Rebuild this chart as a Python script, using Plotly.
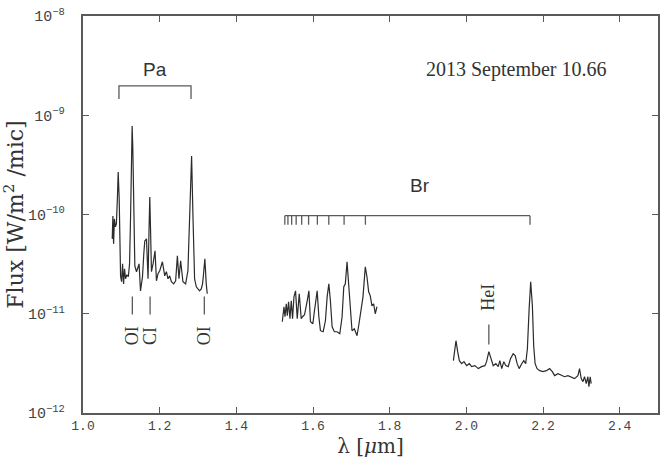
import plotly.graph_objects as go
import math

# ---------------- data (flux in units of 1e-11 W/m^2/micron) ----------------
FLUX_UNIT = 1e-11

j_wave = [1.0762, 1.0780, 1.0798, 1.0819, 1.0845, 1.0871, 1.0897, 1.0918, 1.0944, 1.0962,
          1.0980, 1.1006, 1.1032, 1.1058, 1.1084, 1.1110, 1.1144, 1.1183, 1.1214, 1.1240,
          1.1261, 1.1282, 1.1300, 1.1318, 1.1352, 1.1396, 1.1430, 1.1463, 1.1500, 1.1552,
          1.1586, 1.1612, 1.1656, 1.1697, 1.1723, 1.1742, 1.1762, 1.1786, 1.1827, 1.1879,
          1.1916, 1.1957, 1.2002, 1.2072, 1.2132, 1.2176, 1.2217, 1.2261, 1.2306, 1.2365,
          1.2417, 1.2462, 1.2503, 1.2547, 1.2607, 1.2677, 1.2737, 1.2781, 1.2807, 1.2833,
          1.2867, 1.2911, 1.2956, 1.3002, 1.3041, 1.3085, 1.3119, 1.3145, 1.3179, 1.3215,
          1.3241]
j_flux = [5.68, 9.68, 5.06, 9.03, 7.50, 8.05, 14.4, 26.8, 14.4, 4.51,
          2.41, 2.10, 3.18, 2.00, 2.84, 2.25, 2.47, 2.36, 3.18, 9.03,
          28.8, 77.9, 45.7, 11.4, 3.04, 2.65, 2.97, 3.18, 1.70, 2.36,
          4.02, 5.42, 5.68, 2.25, 7.16, 15.0, 7.16, 2.65, 3.18, 4.30,
          2.15, 2.53, 2.71, 3.34, 2.41, 2.65, 2.25, 2.41, 2.10, 2.00,
          2.15, 3.83, 2.25, 3.41, 2.10, 2.00, 2.71, 7.68, 20.3, 38.9,
          10.15, 2.25, 1.87, 1.78, 1.70, 1.78, 2.00, 2.53, 3.58, 2.00,
          1.59]

h_wave = [1.5199, 1.5243, 1.5269, 1.5303, 1.5329, 1.5363, 1.5399, 1.5433, 1.5467, 1.5503,
          1.5545, 1.5589, 1.5641, 1.5693, 1.5727, 1.5779, 1.5849, 1.5893, 1.5934, 1.5997,
          1.6038, 1.6109, 1.6153, 1.6194, 1.6265, 1.6324, 1.6369, 1.6413, 1.6454, 1.6499,
          1.6558, 1.6628, 1.6699, 1.6759, 1.6803, 1.6844, 1.6888, 1.6933, 1.6974, 1.7018,
          1.7078, 1.7148, 1.7200, 1.7252, 1.7304, 1.7364, 1.7408, 1.7452, 1.7494, 1.7538,
          1.7583, 1.7624, 1.7668]
h_flux = [0.831, 1.176, 0.933, 1.261, 0.955, 1.32, 0.891, 1.35, 0.891, 1.48,
          1.70, 0.891, 1.59, 0.891, 0.933, 0.977, 1.35, 1.70, 0.831, 0.793,
          1.072, 1.70, 0.933, 0.675, 0.659, 0.850, 1.48, 2.00, 1.35, 0.740,
          0.659, 0.659, 0.629, 0.933, 1.87, 2.00, 3.34, 2.00, 1.072, 0.675,
          0.706, 0.600, 0.793, 1.047, 1.48, 2.97, 2.36, 1.665, 1.517, 1.20,
          1.26, 1.00, 1.176]

k_wave = [1.9662, 1.9730, 1.9774, 1.9818, 1.9878, 1.9938, 2.0008, 2.0078, 2.0138, 2.0224,
          2.0312, 2.0398, 2.0484, 2.0528, 2.0588, 2.0640, 2.0702, 2.0770, 2.0832, 2.0873,
          2.0925, 2.0977, 2.1029, 2.1092, 2.1152, 2.1222, 2.1274, 2.1326, 2.1378, 2.1445,
          2.1497, 2.1549, 2.1593, 2.1638, 2.1679, 2.1723, 2.1757, 2.1794, 2.1846, 2.1913,
          2.2001, 2.2087, 2.2173, 2.2243, 2.2303, 2.2391, 2.2477, 2.2563, 2.2651, 2.2737,
          2.2823, 2.2911, 2.2953, 2.2997, 2.3041, 2.3083, 2.3127, 2.3171, 2.3197, 2.3231,
          2.3257]
k_flux = [0.337, 0.535, 0.415, 0.337, 0.314, 0.329, 0.300, 0.314, 0.293, 0.300,
          0.280, 0.293, 0.300, 0.329, 0.415, 0.352, 0.300, 0.314, 0.293, 0.337,
          0.280, 0.329, 0.300, 0.293, 0.352, 0.396, 0.378, 0.314, 0.280, 0.314,
          0.337, 0.314, 0.444, 1.12, 2.10, 1.20, 0.476, 0.314, 0.280, 0.267,
          0.261, 0.267, 0.280, 0.261, 0.238, 0.249, 0.238, 0.232, 0.238, 0.232,
          0.222, 0.238, 0.280, 0.222, 0.207, 0.232, 0.198, 0.232, 0.184, 0.232,
          0.198]

# line identifications
pa_lines = [1.0938, 1.2818]                     # Pa gamma, Pa beta
br_lines = [1.5265, 1.5346, 1.5443, 1.5561, 1.5705, 1.5885,
            1.6114, 1.6412, 1.6811, 1.7367, 2.1661]  # Br19 ... Br10, Br gamma
ion_lines = [1.1287, 1.1750, 1.3165]            # OI, CI, OI
ion_labels = ["OI", "CI", "OI"]
hei_line = 2.0587

# label heights (flux)
pa_bar_y, pa_tick_y = 1.98e-9, 1.46e-9
br_bar_y, br_tick_y = 9.73e-11, 7.89e-11
ion_top_y, ion_bot_y = 1.49e-11, 9.8e-12
ion_text_y = 5.97e-12
hei_top_y, hei_bot_y = 7.78e-12, 4.9e-12
hei_text_y = 1.47e-11

LINE = "#2b2b2b"
AX = "#5a5a5a"
fig = go.Figure()

for w, f in [(j_wave, j_flux), (h_wave, h_flux), (k_wave, k_flux)]:
    fig.add_trace(go.Scatter(x=w, y=[v * FLUX_UNIT for v in f], mode="lines",
                             line=dict(color=LINE, width=1.2), hoverinfo="skip",
                             showlegend=False))

# Pa bracket
fig.add_trace(go.Scatter(
    x=[pa_lines[0], pa_lines[0], pa_lines[1], pa_lines[1]],
    y=[pa_tick_y, pa_bar_y, pa_bar_y, pa_tick_y],
    mode="lines", line=dict(color=AX, width=1.3), showlegend=False, hoverinfo="skip"))

# Br bracket
bx, by = [br_lines[0], br_lines[-1]], [br_bar_y, br_bar_y]
for w in br_lines:
    bx += [None, w, w]
    by += [None, br_bar_y, br_tick_y]
fig.add_trace(go.Scatter(x=bx, y=by, mode="lines", line=dict(color=AX, width=1.3),
                         showlegend=False, hoverinfo="skip"))

# OI / CI / HeI marks
mx, my = [], []
for w in ion_lines:
    mx += [w, w, None]
    my += [ion_top_y, ion_bot_y, None]
mx += [hei_line, hei_line]
my += [hei_top_y, hei_bot_y]
fig.add_trace(go.Scatter(x=mx, y=my, mode="lines", line=dict(color=AX, width=1.3),
                         showlegend=False, hoverinfo="skip"))

ann = []
ann.append(dict(x=sum(pa_lines) / 2, y=math.log10(2.9e-9), text="Pa",
                font=dict(family="Liberation Sans", size=19, color="#333")))
ann.append(dict(x=1.88, y=math.log10(1.95e-10), text="Br",
                font=dict(family="Liberation Sans", size=19, color="#333")))
ann.append(dict(x=2.13, y=math.log10(2.86e-9), text="2013 September 10.66",
                font=dict(family="Liberation Serif", size=20, color="#333")))
for w, t in zip(ion_lines, ion_labels):
    ann.append(dict(x=w, y=math.log10(ion_text_y), text=t, textangle=-90,
                    font=dict(family="Liberation Serif", size=18, color="#333")))
ann.append(dict(x=hei_line - 0.003, y=math.log10(hei_text_y), text="HeI", textangle=-90,
                font=dict(family="Liberation Serif", size=18, color="#333")))
for a in ann:
    a.update(xref="x", yref="y", showarrow=False, xanchor="center", yanchor="middle")

fig.update_layout(
    width=660, height=468,
    margin=dict(l=83, r=0, t=16, b=55),
    paper_bgcolor="white", plot_bgcolor="white",
    annotations=ann,
    xaxis=dict(range=[1.0, 2.5], dtick=0.2, tick0=1.0, tickformat=".1f",
               showgrid=False, zeroline=False, showline=True, linecolor=AX, linewidth=1.5,
               mirror="allticks", ticks="inside", ticklen=6, tickcolor=AX,
               tickfont=dict(family="Liberation Mono", size=13, color="#444"),
               title=dict(text="λ [<i>μ</i>m]", standoff=6,
                          font=dict(family="DejaVu Serif", size=20, color="#333"))),
    yaxis=dict(type="log", range=[-12, -8], dtick=1, exponentformat="power",
               showgrid=False, zeroline=False, showline=True, linecolor=AX, linewidth=1.5,
               mirror="allticks", ticks="inside", ticklen=6, tickcolor=AX,
               ticklabelstandoff=14,
               tickfont=dict(family="Liberation Mono", size=12, color="#444"),
               title=dict(text="Flux [W/m<sup>2</sup> /mic]", standoff=6,
                          font=dict(family="DejaVu Serif", size=22, color="#333"))),
)

fig.write_html("out.html")
